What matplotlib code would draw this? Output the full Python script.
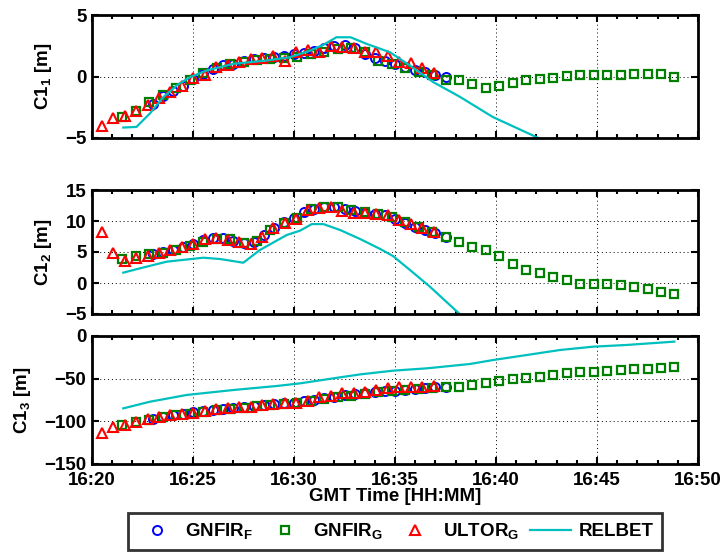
import matplotlib
matplotlib.use("Agg")
import matplotlib.pyplot as plt
from matplotlib.ticker import FixedLocator, MultipleLocator

plt.rcParams['font.family'] = ['Liberation Sans', 'DejaVu Sans']
plt.rcParams['font.weight'] = 'bold'
plt.rcParams['mathtext.fontset'] = 'custom'
plt.rcParams['mathtext.rm'] = 'Liberation Sans:bold'
plt.rcParams['mathtext.bf'] = 'Liberation Sans:bold'
plt.rcParams['mathtext.it'] = 'Liberation Sans:bold'
plt.rcParams['axes.unicode_minus'] = True

FS = 13.5

# time in minutes after 16:20
t_gnfir_f = [3.0, 3.5, 4.0, 4.5, 5.0, 5.5, 6.0, 6.5, 7.0, 7.5, 8.0, 8.5, 9.0, 9.5, 10.0,
             10.5, 11.0, 11.5, 12.0, 12.5, 13.0, 13.5, 14.0, 14.5, 15.0, 15.5, 16.0, 16.5, 17.0, 17.5]
t_gnfir_g = [1.5, 2.17, 2.83, 3.5, 4.17, 4.83, 5.5, 6.17, 6.83, 7.5, 8.17, 8.83, 9.5, 10.17,
             10.83, 11.5, 12.17, 12.83, 13.5, 14.17, 14.83, 15.5, 16.17, 16.83, 17.5, 18.17,
             18.83, 19.5, 20.17, 20.83, 21.5, 22.17, 22.83, 23.5, 24.17, 24.83, 25.5, 26.17,
             26.83, 27.5, 28.17, 28.83]
t_ultor_g = [0.48, 1.05, 1.62, 2.18, 2.75, 3.32, 3.88, 4.45, 5.02, 5.58, 6.15, 6.72, 7.28,
             7.85, 8.42, 8.98, 9.55, 10.12, 10.68, 11.25, 11.82, 12.38, 12.95, 13.52, 14.08,
             14.65, 15.22, 15.78, 16.35, 16.92]

# panel 1 : C1_1
c11_gnfir_f = [-2.2, -1.6, -1.2, -0.8, -0.2, 0.2, 0.6, 0.9, 1.05, 1.25, 1.4, 1.5, 1.6, 1.7,
               1.8, 1.95, 2.1, 2.3, 2.45, 2.6, 2.3, 1.8, 1.5, 1.3, 1.0, 0.76, 0.5, 0.35, 0.1, -0.05]
c11_gnfir_g = [-3.3, -2.8, -2.1, -1.5, -0.9, -0.3, 0.3, 0.7, 1.0, 1.2, 1.35, 1.45, 1.5, 1.6,
               1.8, 2.0, 2.2, 2.3, 2.0, 1.3, 1.03, 0.7, 0.4, 0.15, -0.27, -0.32, -0.65, -0.92,
               -0.81, -0.54, -0.32, -0.22, -0.16, 0.05, 0.11, 0.11, 0.11, 0.11, 0.22, 0.22,
               0.22, 0.0]
c11_ultor_g = [-4.05, -3.35, -3.24, -2.81, -2.3, -1.73, -1.3, -0.81, -0.11, 0.16, 0.76, 0.95,
               1.16, 1.43, 1.51, 1.7, 1.3, 2.03, 2.16, 2.03, 2.51, 2.43, 2.32, 1.97, 1.97, 1.7,
               1.16, 1.08, 0.68, 0.27]
t_relbet_1 = [1.55, 2.2, 2.87, 3.53, 4.19, 4.85, 5.68, 7.0, 8.65, 9.8, 10.8, 11.45, 12.1, 12.8,
              13.6, 14.75, 15.74, 16.9, 18.2, 19.85, 22.1]
c11_relbet = [-4.15, -4.1, -3.0, -1.68, -0.73, -0.05, 0.49, 1.03, 1.3, 1.57, 2.1, 2.57, 3.19,
              3.19, 2.65, 1.97, 0.89, -0.46, -1.64, -3.3, -5.0]

# panel 2 : C1_2
c12_gnfir_f = [4.7, 5.0, 5.3, 5.8, 6.3, 6.9, 7.3, 7.2, 6.8, 6.5, 6.6, 7.8, 8.9, 9.8, 10.5,
               11.4, 12.0, 12.3, 12.3, 12.0, 11.6, 11.3, 11.1, 10.9, 10.4, 9.7, 9.1, 8.5, 8.0, 7.5]
c12_gnfir_g = [3.8, 4.3, 4.6, 4.9, 5.4, 6.0, 6.6, 7.1, 7.1, 6.4, 6.8, 8.5, 9.6, 10.5, 11.9,
               12.3, 12.3, 11.8, 11.4, 11.1, 10.7, 9.9, 9.0, 8.3, 7.47, 6.55, 5.86, 5.3, 4.35,
               3.06, 2.1, 1.56, 1.02, 0.43, -0.1, -0.16, -0.16, -0.32, -0.59, -0.97, -1.4, -1.77]
c12_ultor_g = [8.27, 4.9, 3.6, 4.1, 4.4, 4.9, 5.3, 5.75, 6.3, 7.1, 7.2, 6.9, 6.55, 6.3, 7.47,
               8.8, 9.7, 10.4, 11.8, 12.05, 12.2, 11.66, 11.24, 11.3, 11.1, 10.97, 10.16, 9.5,
               8.8, 8.2]
t_relbet_2 = [1.55, 2.38, 3.7, 5.51, 6.34, 7.49, 8.3, 9.64, 10.3, 10.88, 11.45, 12.28, 13.27,
              14.26, 14.9, 15.74, 16.73, 18.2]
c12_relbet = [1.67, 2.37, 3.44, 4.08, 3.87, 3.27, 5.3, 7.74, 8.44, 9.5, 9.5, 8.55, 7.1, 5.5,
              4.35, 2.1, -0.6, -5.0]

# panel 3 : C1_3
c13_gnfir_f = [-97, -95, -93, -91, -89.5, -88, -86.5, -85, -84, -83, -82, -81, -80, -79, -78,
               -76.5, -75, -73, -71, -69.5, -68, -67, -66, -65, -64, -63, -62, -61, -60, -59.5]
c13_gnfir_g = [-104, -101, -98, -95, -93, -91, -89, -87, -85, -84, -82.5, -81, -80, -78, -76,
               -74, -72, -70, -68, -66, -64, -63, -62, -61, -60.2, -59.4, -57.4, -54.7, -52.7,
               -50.8, -48.8, -47.7, -45.7, -43.8, -42.6, -41.8, -41, -39.8, -39, -38.3, -37.9,
               -36.7]
c13_ultor_g = [-113.3, -107, -104.3, -100.4, -97.3, -95.3, -92.6, -91.8, -90.6, -87.5, -85.9,
               -84.8, -83.6, -82.8, -81.2, -80.1, -78.9, -78.1, -76.6, -71.9, -70.3, -66.4,
               -67.2, -65.2, -63.3, -61.3, -60.2, -59.4, -59.4, -58.6]
t_relbet_3 = [1.55, 2.87, 4.69, 6.99, 9.14, 10.3, 11.95, 13.27, 14.92, 16.57, 18.71, 19.87,
              21.52, 23.17, 24.82, 26.47, 28.83]
c13_relbet = [-84.8, -77, -69.1, -63.3, -58.6, -55.5, -49.6, -45, -40.6, -37.9, -32.8, -28.1,
              -22.3, -16.4, -12.5, -10.5, -6.6]

x_ticks = [0, 5, 10, 15, 20, 25, 30]
x_ticklabels = ['16:20', '16:25', '16:30', '16:35', '16:40', '16:45', '16:50']

panels = [
    (c11_gnfir_f, c11_gnfir_g, c11_ultor_g, t_relbet_1, c11_relbet,
     r'C1$_\mathregular{1}$ [m]', (-5, 5), [-5, 0, 5]),
    (c12_gnfir_f, c12_gnfir_g, c12_ultor_g, t_relbet_2, c12_relbet,
     r'C1$_\mathregular{2}$ [m]', (-5, 15), [-5, 0, 5, 10, 15]),
    (c13_gnfir_f, c13_gnfir_g, c13_ultor_g, t_relbet_3, c13_relbet,
     r'C1$_\mathregular{3}$ [m]', (-150, 0), [-150, -100, -50, 0]),
]

W, H = 723, 555
fig = plt.figure(figsize=(W / 100, H / 100), dpi=100)
boxes = [(15, 138), (190, 314), (336, 464)]
left, right = 92, 698

blue = (0, 0, 1)
green = (0, 0.5, 0)
red = (1, 0, 0)
cyan = (0, 0.75, 0.75)

handles = None
for i, (bf, gg, ug, tr, rb, ylab, ylim, yt) in enumerate(panels):
    top, bot = boxes[i]
    ax = fig.add_axes([left / W, 1 - bot / H, (right - left) / W, (bot - top) / H])
    h1, = ax.plot(t_gnfir_f, bf, 'o', ms=6.5, mfc='none', mec=blue, mew=1.4, ls='none')
    h2, = ax.plot(t_gnfir_g, gg, 's', ms=5.2, mfc='none', mec=green, mew=1.6, ls='none')
    h3, = ax.plot(t_ultor_g, ug, '^', ms=7.5, mfc='none', mec=red, mew=1.5, ls='none')
    h4, = ax.plot(tr, rb, '-', color=cyan, lw=1.6)
    handles = [h1, h2, h3, h4]
    ax.set_xlim(0, 30)
    ax.set_ylim(*ylim)
    ax.xaxis.set_major_locator(FixedLocator(x_ticks))
    ax.xaxis.set_minor_locator(MultipleLocator(1))
    ax.set_yticks(yt)
    ax.grid(True, which='major', color='k', linestyle=(0, (1, 3)), linewidth=0.7)
    ax.tick_params(which='both', direction='in', top=True, right=True, labelsize=FS, width=1.5)
    ax.tick_params(which='major', length=5, pad=4)
    ax.tick_params(axis='x', which='major', pad=6)
    ax.tick_params(which='minor', length=3)
    for s in ax.spines.values():
        s.set_linewidth(2)
    ax.set_ylabel(ylab, fontsize=FS, fontweight='bold', labelpad=8)
    for lab in ax.get_yticklabels():
        lab.set_fontweight('bold')
    if i == 2:
        ax.set_xticklabels(x_ticklabels, fontsize=FS, fontweight='bold')
        ax.set_xlabel('GMT Time [HH:MM]', fontsize=FS, fontweight='bold', labelpad=-1)
    else:
        ax.set_xticklabels([])

labels = [r'GNFIR$_\mathregular{F}$', r'GNFIR$_\mathregular{G}$', r'ULTOR$_\mathregular{G}$', 'RELBET']
leg = fig.legend(handles, labels, loc='lower center', bbox_to_anchor=(395 / W, -4 / H),
                 ncol=4, frameon=True, fancybox=False, edgecolor='k',
                 handlelength=2.2, handletextpad=0.4, columnspacing=0.6, borderpad=0.45,
                 numpoints=1, prop={'weight': 'bold', 'size': FS})
leg.get_frame().set_linewidth(2)

fig.savefig('out.png', dpi=100)
